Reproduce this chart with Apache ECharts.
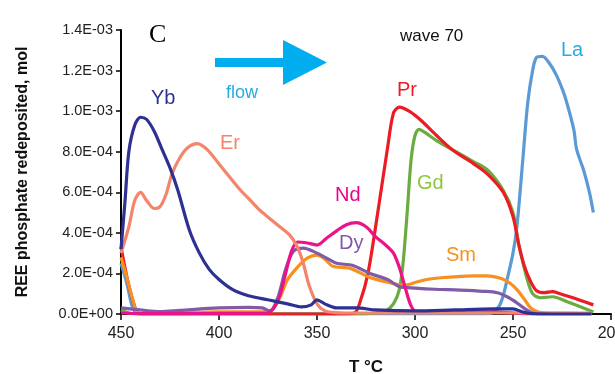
<!DOCTYPE html>
<html>
<head>
<meta charset="utf-8">
<script src="https://cdn.jsdelivr.net/npm/echarts@6/dist/echarts.min.js"></script>
<style>
  html, body { margin: 0; padding: 0; background: #fff; }
  #chart { width: 615px; height: 374px; }
</style>
</head>
<body>
<div id="chart"></div>
<script>
  // temperatures (°C) and amounts (units of 1E-04 mol)
  var ybT = [450, 448, 446, 443, 440, 437, 433, 429, 425, 421, 415, 410, 405, 400, 393, 385, 375, 365, 358, 353, 350, 346, 340, 330, 320, 300, 280, 260, 250, 245, 240, 225, 210];
  var ybV = [3.2, 5.5, 8.0, 9.3, 9.7, 9.6, 9.0, 8.1, 7.2, 6.1, 4.1, 3.0, 2.2, 1.7, 1.2, 0.9, 0.7, 0.5, 0.35, 0.45, 0.7, 0.5, 0.3, 0.3, 0.2, 0.15, 0.2, 0.25, 0.25, 0.1, 0.02, 0, 0];

  var erT = [450, 446, 443, 440, 437, 433, 430, 427, 424, 420, 416, 411, 406, 400, 395, 389, 384, 379, 374, 369, 364, 360, 357, 354, 350, 346, 342, 335, 320, 300, 280, 260, 240, 220, 210];
  var erV = [3.0, 4.3, 5.6, 6.0, 5.6, 5.2, 5.3, 5.9, 6.9, 7.7, 8.2, 8.4, 8.1, 7.4, 6.8, 6.1, 5.6, 5.1, 4.7, 4.3, 3.9, 3.3, 2.5, 1.4, 0.5, 0.15, 0.08, 0.05, 0.05, 0.05, 0.05, 0.05, 0.05, 0.03, 0.02];

  var ndT = [450, 440, 420, 400, 380, 375, 372, 369, 366, 363, 360, 355, 350, 345, 340, 335, 330, 325, 320, 315, 311, 308, 305, 302, 299, 290, 260, 250, 240, 210];
  var ndV = [0.05, 0.02, 0.02, 0.03, 0.03, 0.05, 0.3, 0.9, 2.0, 3.1, 3.55, 3.5, 3.4, 3.75, 4.1, 4.4, 4.5, 4.3, 3.8, 3.4, 3.0, 2.3, 1.3, 0.4, 0.1, 0.1, 0.1, 0.05, 0, 0];

  var dyT = [450, 440, 430, 420, 400, 385, 378, 374, 370, 366, 362, 357, 350, 345, 340, 332, 323, 314, 308, 300, 290, 277, 265, 258, 253, 248, 243, 238, 225, 210];
  var dyV = [0.3, 0.2, 0.12, 0.18, 0.3, 0.33, 0.3, 0.15, 0.8, 2.2, 3.1, 3.25, 3.0, 2.75, 2.5, 2.4, 2.0, 1.7, 1.35, 1.28, 1.22, 1.18, 1.12, 1.05, 0.85, 0.55, 0.2, 0.02, 0, 0];

  var smT = [450, 447, 444, 441, 430, 400, 380, 373, 369, 365, 360, 355, 350, 346, 342, 333, 323, 311, 306, 300, 294, 285, 277, 270, 263, 256, 252, 248, 244, 241, 237, 230, 210];
  var smV = [2.8, 1.8, 0.7, 0.05, 0.05, 0.1, 0.1, 0.2, 0.8, 1.7, 2.3, 2.75, 2.9, 2.7, 2.35, 2.25, 1.8, 1.5, 1.4, 1.55, 1.7, 1.8, 1.85, 1.88, 1.88, 1.75, 1.55, 1.2, 0.7, 0.3, 0.1, 0.05, 0.05];

  var prT = [450, 446, 442, 440, 400, 340, 331, 328, 324, 319, 314, 311, 308, 303, 297, 289, 281, 270, 263, 255, 250, 247, 244, 241, 238, 234, 230, 226, 221, 215, 209];
  var prV = [3.3, 1.4, 0.1, 0, 0, 0, 0.05, 0.6, 2.0, 5.0, 8.2, 9.9, 10.2, 10.0, 9.55, 8.8, 8.1, 7.4, 6.9, 6.0, 4.8, 3.4, 2.3, 1.6, 1.15, 1.05, 1.1, 1.0, 0.85, 0.65, 0.45];

  var gdT = [450, 446, 442, 400, 330, 320, 315, 311, 308, 306, 304, 302, 300, 298, 295, 289, 281, 270, 263, 255, 250, 247, 243, 240, 236, 230, 221, 209];
  var gdV = [0.2, 0.05, 0, 0, 0, 0.05, 0.15, 0.5, 1.2, 2.6, 5.0, 7.6, 8.8, 9.1, 8.95, 8.55, 8.1, 7.5, 7.1, 6.1, 5.0, 3.4, 1.8, 1.0, 0.8, 0.85, 0.55, 0.1];

  var laT = [450, 447, 444, 441, 400, 300, 265, 260, 257, 255, 253, 250, 248, 245, 242.5, 240, 238, 235, 231, 227.5, 224.5, 222.5, 219, 217.5, 214, 211, 209];
  var laV = [2.5, 1.5, 0.3, 0, 0, 0, 0, 0.1, 0.4, 0.9, 1.7, 3.0, 4.3, 7.6, 10.4, 12.0, 12.65, 12.7, 12.3, 11.7, 11.0, 10.4, 9.1, 8.1, 7.1, 6.0, 5.0];

  var tempTicks = [450, 400, 350, 300, 250, 200];

  function pairs(t, v) {
    return t.map(function (x, i) { return [x, v[i]]; });
  }

  function sci(val) {
    var n = val * 1e-4;
    if (n === 0) return '0.0E+00';
    var e = Math.floor(Math.log10(n) + 1e-9);
    var m = n / Math.pow(10, e);
    var es = (e < 0 ? '-' : '+') + (Math.abs(e) < 10 ? '0' : '') + Math.abs(e);
    return m.toFixed(1) + 'E' + es;
  }

  function line(name, t, v, color) {
    return {
      name: name,
      type: 'line',
      data: pairs(t, v),
      smooth: 0.3,
      showSymbol: false,
      lineStyle: { color: color, width: 3.2 },
      itemStyle: { color: color },
      z: 2
    };
  }

  var myChart = echarts.init(document.getElementById('chart'));
  var font = 'Liberation Sans, Arial, sans-serif';

  var option = {
    animation: false,
    backgroundColor: '#fff',
    grid: { left: 121, right: 4, top: 30, bottom: 60, outerBoundsMode: 'none', containLabel: false },
    xAxis: {
      type: 'value',
      min: 200,
      max: 450,
      interval: 50,
      inverse: true,
      name: 'T °C',
      nameLocation: 'middle',
      nameGap: 45,
      nameTextStyle: { color: '#111', fontSize: 17, fontWeight: 'bold', fontFamily: font },
      axisLine: { onZero: false, lineStyle: { color: '#000', width: 2 } },
      axisTick: { show: true, inside: false, length: 6, lineStyle: { color: '#000', width: 1.5 } },
      axisLabel: { color: '#222', fontSize: 16, fontFamily: font, margin: 12, showMaxLabel: true, showMinLabel: true,
        formatter: function (v) { return tempTicks.indexOf(v) >= 0 ? String(v) : ''; } },
      splitLine: { show: false }
    },
    yAxis: {
      type: 'value',
      min: 0,
      max: 14,
      interval: 2,
      name: 'REE phosphate redeposited, mol',
      nameLocation: 'middle',
      nameGap: 90,
      nameTextStyle: { color: '#111', fontSize: 16, fontWeight: 'bold', fontFamily: font },
      axisLine: { show: true, lineStyle: { color: '#000', width: 2 } },
      axisTick: { show: true, inside: false, length: 5, lineStyle: { color: '#000', width: 1.5 } },
      axisLabel: { color: '#222', fontSize: 14.5, fontFamily: font, margin: 8, formatter: sci },
      splitLine: { show: false }
    },
    series: [
      line('La', laT, laV, '#5b9bd5'),
      line('Gd', gdT, gdV, '#6aac3f'),
      line('Pr', prT, prV, '#ed1c24'),
      line('Sm', smT, smV, '#f7901e'),
      line('Dy', dyT, dyV, '#7f5ba8'),
      line('Nd', ndT, ndV, '#ec1388'),
      line('Er', erT, erV, '#f4846a'),
      line('Yb', ybT, ybV, '#2e3192')
    ],
    graphic: [
      { type: 'text', left: 149, top: 22, style: { text: 'C', fill: '#000', font: '26px "Liberation Serif", serif' } },
      { type: 'rect', shape: { x: 215, y: 58, width: 70, height: 9 }, style: { fill: '#00aeef' } },
      { type: 'polygon', shape: { points: [[283, 40], [327, 62.5], [283, 85]] }, style: { fill: '#00aeef' } },
      { type: 'text', left: 226, top: 84, style: { text: 'flow', fill: '#29abe2', font: '18px ' + font } },
      { type: 'text', left: 400, top: 28, style: { text: 'wave 70', fill: '#111', font: '17px ' + font } },
      { type: 'text', left: 151, top: 88, style: { text: 'Yb', fill: '#2e3192', font: '20px ' + font } },
      { type: 'text', left: 220, top: 133, style: { text: 'Er', fill: '#f4846a', font: '20px ' + font } },
      { type: 'text', left: 335, top: 185, style: { text: 'Nd', fill: '#ec008c', font: '20px ' + font } },
      { type: 'text', left: 339, top: 233, style: { text: 'Dy', fill: '#7f5ba8', font: '20px ' + font } },
      { type: 'text', left: 397, top: 80, style: { text: 'Pr', fill: '#ed1c24', font: '20px ' + font } },
      { type: 'text', left: 417, top: 173, style: { text: 'Gd', fill: '#8dc63f', font: '20px ' + font } },
      { type: 'text', left: 446, top: 245, style: { text: 'Sm', fill: '#f7901e', font: '20px ' + font } },
      { type: 'text', left: 561, top: 40, style: { text: 'La', fill: '#29abe2', font: '20px ' + font } }
    ]
  };

  myChart.setOption(option);
</script>
</body>
</html>
